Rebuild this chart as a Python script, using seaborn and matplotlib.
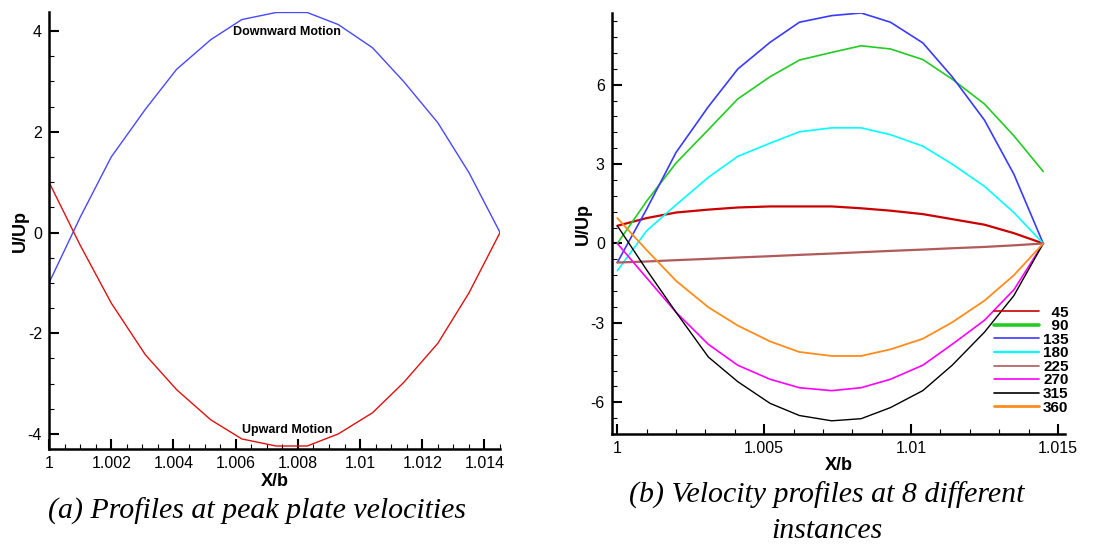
import numpy as np
import pandas as pd
import matplotlib
matplotlib.use("Agg")
import matplotlib.pyplot as plt
import seaborn as sns
from matplotlib.ticker import MultipleLocator, FuncFormatter

# ---------------- data ----------------
x_b = [1.0, 1.001, 1.002, 1.0031, 1.0041, 1.0052, 1.0062, 1.0073,
       1.0083, 1.0093, 1.0104, 1.0114, 1.0125, 1.0135, 1.0145]

# panel (a)
downward = [-1.0, 0.3, 1.5, 2.45, 3.24, 3.83, 4.23, 4.37, 4.37, 4.13, 3.67, 3.0, 2.18, 1.19, 0.0]
upward = [1.0, -0.25, -1.4, -2.43, -3.12, -3.72, -4.1, -4.24, -4.24, -4.0, -3.58, -2.98, -2.2, -1.2, 0.0]

# panel (b)
phase_labels = ["45", "90", "135", "180", "225", "270", "315", "360"]
u45 = [0.67, 0.96, 1.17, 1.28, 1.36, 1.40, 1.40, 1.40, 1.33, 1.24, 1.11, 0.92, 0.71, 0.39, 0.0]
u90 = [0.0, 1.6, 3.04, 4.3, 5.46, 6.3, 6.93, 7.22, 7.47, 7.35, 6.95, 6.21, 5.27, 4.07, 2.72]
u135 = [-0.72, 1.3, 3.44, 5.17, 6.59, 7.6, 8.36, 8.61, 8.71, 8.36, 7.58, 6.3, 4.66, 2.62, 0.0]
u180 = [-1.03, 0.48, 1.46, 2.5, 3.29, 3.79, 4.22, 4.37, 4.37, 4.11, 3.68, 3.0, 2.16, 1.17, 0.0]
u225 = [-0.72, -0.68, -0.63, -0.58, -0.53, -0.48, -0.43, -0.38, -0.33, -0.28, -0.23, -0.18, -0.13, -0.07, 0.0]
u270 = [0.0, -1.3, -2.6, -3.81, -4.6, -5.13, -5.45, -5.56, -5.45, -5.13, -4.6, -3.81, -2.9, -1.75, 0.0]
u315 = [0.67, -1.0, -2.6, -4.29, -5.22, -6.04, -6.5, -6.7, -6.62, -6.2, -5.56, -4.6, -3.35, -1.97, 0.0]
u360 = [0.96, -0.25, -1.41, -2.41, -3.1, -3.7, -4.1, -4.25, -4.25, -4.0, -3.6, -2.98, -2.16, -1.2, 0.0]
phase_series = [u45, u90, u135, u180, u225, u270, u315, u360]

# ---------------- style ----------------
sns.set_style("white")
plt.rcParams['font.family'] = ['Liberation Sans', 'DejaVu Sans']
plt.rcParams['axes.edgecolor'] = 'black'
plt.rcParams['axes.linewidth'] = 1.8
plt.rcParams['text.color'] = 'black'
plt.rcParams['axes.labelcolor'] = 'black'
plt.rcParams['xtick.color'] = 'black'
plt.rcParams['ytick.color'] = 'black'

fig = plt.figure(figsize=(11.09, 5.45), dpi=100)
ax1 = fig.add_axes([0.0442, 0.1761, 0.4067, 0.8019])
ax2 = fig.add_axes([0.5516, 0.2031, 0.4087, 0.7736])

df_a = pd.DataFrame({
    "X/b": x_b * 2,
    "U/Up": downward + upward,
    "motion": ["Downward Motion"] * len(x_b) + ["Upward Motion"] * len(x_b),
})
sns.lineplot(data=df_a, x="X/b", y="U/Up", hue="motion",
             palette={"Downward Motion": "#4848ff", "Upward Motion": "#e01010"},
             sort=False, estimator=None, linewidth=1.0, legend=False, ax=ax1)

colors = ["#cc0000", "#22cc22", "#3a3aff", "#00ffff", "#b05a5a", "#ff00ff", "#000000", "#ff8c1a"]
widths = [1.6, 1.2, 1.2, 1.2, 1.6, 1.2, 1.0, 1.3]
leg_widths = [1.2, 2.6, 1.2, 1.6, 1.2, 1.2, 1.2, 2.0]
rows = []
for lab, ser in zip(phase_labels, phase_series):
    for xv, yv in zip(x_b, ser):
        rows.append({"X/b": xv, "U/Up": yv, "phase": lab})
df_b = pd.DataFrame(rows)
for lab, col, lw in zip(phase_labels, colors, widths):
    sns.lineplot(data=df_b[df_b["phase"] == lab], x="X/b", y="U/Up",
                 color=col, linewidth=lw, sort=False, estimator=None,
                 label=lab, ax=ax2)

fmt = FuncFormatter(lambda v, p: "%g" % round(v, 6))

for ax in (ax1, ax2):
    sns.despine(ax=ax)
    ax.tick_params(which='both', bottom=True, left=True, top=False, right=False)
    ax.tick_params(which='major', direction='in', length=7.2, width=1.5,
                   labelsize=11.5, pad=5, colors='black')
    ax.tick_params(which='minor', direction='in', length=3.6, width=0.8, colors='black')
    ax.xaxis.set_major_formatter(fmt)
    ax.yaxis.set_major_formatter(fmt)
    ax.set_facecolor('white')
    ax.set_xlabel("X/b", fontsize=13, fontweight='bold', va='top')
    ax.set_ylabel("U/Up", fontsize=13, fontweight='bold')
    ax.xaxis.set_label_coords(0.5, -0.055)

ax1.set_xlim(1.0, 1.0145)
ax1.set_ylim(-4.3, 4.38)
ax1.xaxis.set_major_locator(MultipleLocator(0.002))
ax1.xaxis.set_minor_locator(MultipleLocator(0.0005))
ax1.yaxis.set_major_locator(MultipleLocator(2))
ax1.yaxis.set_minor_locator(MultipleLocator(0.5))
ax1.yaxis.set_label_coords(-0.045, 0.5)

ax2.set_xlim(0.99981, 1.01524)
ax2.set_ylim(-7.21, 8.72)
ax2.xaxis.set_major_locator(MultipleLocator(0.005))
ax2.xaxis.set_minor_locator(MultipleLocator(0.001))
ax2.yaxis.set_major_locator(MultipleLocator(3))
ax2.yaxis.set_minor_locator(MultipleLocator(0.6))
ax2.yaxis.set_label_coords(-0.043, 0.5)

ax1.text(1.00766, 3.98, "Downward Motion", fontsize=9, fontweight='bold',
         ha='center', va='center')
ax1.text(1.00766, -3.93, "Upward Motion", fontsize=9, fontweight='bold',
         ha='center', va='center')

# legend with right-aligned numbers
handles, labels = ax2.get_legend_handles_labels()
maxlen = max(len(l) for l in labels)
padded = ["\u2007" * (maxlen - len(l)) + l for l in labels]
leg = ax2.legend(handles, padded, loc='upper right',
                 bbox_to_anchor=(0.9705, 0.453), bbox_transform=fig.transFigure,
                 frameon=False, fontsize=11, handlelength=2.9,
                 handletextpad=0.3, labelspacing=-0.03, borderpad=0.0)
for t in leg.get_texts():
    t.set_fontweight('bold')
for h, lw in zip(leg.legend_handles, leg_widths):
    h.set_linewidth(lw)

cap = dict(family='Liberation Serif', style='italic', fontsize=21.5,
           ha='center', va='center', color='black')
fig.text(0.2317, 0.062, "(a) Profiles at peak plate velocities", **cap)
fig.text(0.7457, 0.092, "(b) Velocity profiles at 8 different", **cap)
fig.text(0.7457, 0.026, "instances", **cap)

fig.savefig("out.png", dpi=100)
